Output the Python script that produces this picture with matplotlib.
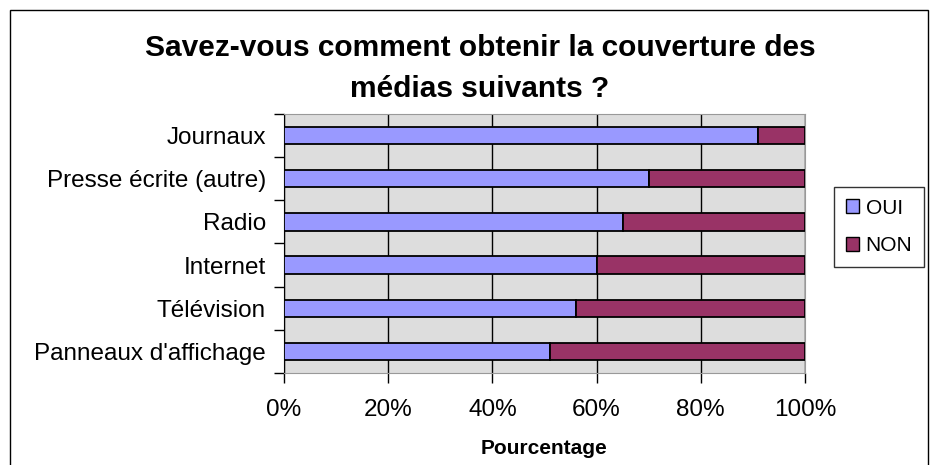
import numpy as np
import matplotlib
matplotlib.use("Agg")
import matplotlib.pyplot as plt
from matplotlib.patches import Rectangle

plt.rcParams['font.family'] = ['Liberation Sans', 'DejaVu Sans']

categories = ["Journaux", "Presse écrite (autre)", "Radio", "Internet",
              "Télévision", "Panneaux d'affichage"]
oui = [91, 70, 65, 60, 56, 51]
non = [9, 30, 35, 40, 44, 49]

OUI_COLOR = "#9999FF"
NON_COLOR = "#993366"

fig = plt.figure(figsize=(9.3, 4.65), dpi=100)
ax = fig.add_axes([284 / 930, 1 - 373 / 465, (805 - 284) / 930, (373 - 114) / 465])

y = np.arange(len(categories))
ax.barh(y, oui, height=0.4, color=OUI_COLOR, edgecolor="black", linewidth=1.3,
        label="OUI", zorder=3)
ax.barh(y, non, left=oui, height=0.4, color=NON_COLOR, edgecolor="black",
        linewidth=1.3, label="NON", zorder=3)

ax.set_xlim(0, 100)
ax.set_ylim(len(categories) - 0.5, -0.5)
ax.set_facecolor("#DDDDDD")

ax.set_xticks([0, 20, 40, 60, 80, 100])
ax.set_xticklabels(["0%", "20%", "40%", "60%", "80%", "100%"], fontsize=17.5)
ax.xaxis.grid(True, color="black", linewidth=1, zorder=1)

# category labels centred, tick marks on boundaries
ax.set_yticks(y)
ax.set_yticklabels(categories, fontsize=17.5)
ax.tick_params(axis="y", which="major", length=0, pad=13)
ax.set_yticks(np.arange(-0.5, len(categories)), minor=True)
ax.tick_params(axis="y", which="minor", length=7, width=1, direction="out")
ax.tick_params(axis="x", length=7, width=1, direction="out", pad=12)

for side in ["top", "right"]:
    ax.spines[side].set_color("#999999")
ax.spines["left"].set_color("black")
ax.spines["bottom"].set_color("#999999")

ax.set_xlabel("Pourcentage", fontsize=15, fontweight="bold", labelpad=13)

fig.text(480 / 930, 1 - 48 / 465,
         "Savez-vous comment obtenir la couverture des",
         ha="center", va="center", fontsize=21.5, fontweight="bold")
fig.text(480 / 930, 1 - 89 / 465, "médias suivants ?",
         ha="center", va="center", fontsize=21.5, fontweight="bold")

leg = fig.legend(handles=ax.get_legend_handles_labels()[0], loc="center",
                 bbox_to_anchor=(879 / 930, 1 - 227 / 465), fontsize=15,
                 frameon=True, fancybox=False, edgecolor="black",
                 handlelength=0.65, handleheight=0.65, handletextpad=0.3,
                 labelspacing=0.9, borderpad=0.55, borderaxespad=0)
leg.get_frame().set_linewidth(1)
for h in leg.legend_handles:
    h.set_linewidth(1)

fig.patches.append(Rectangle((10 / 930, -0.05), 918 / 930, 1.05 - 10 / 465,
                             transform=fig.transFigure, fill=False,
                             edgecolor="black", linewidth=1))

fig.savefig("out.png", dpi=100)
